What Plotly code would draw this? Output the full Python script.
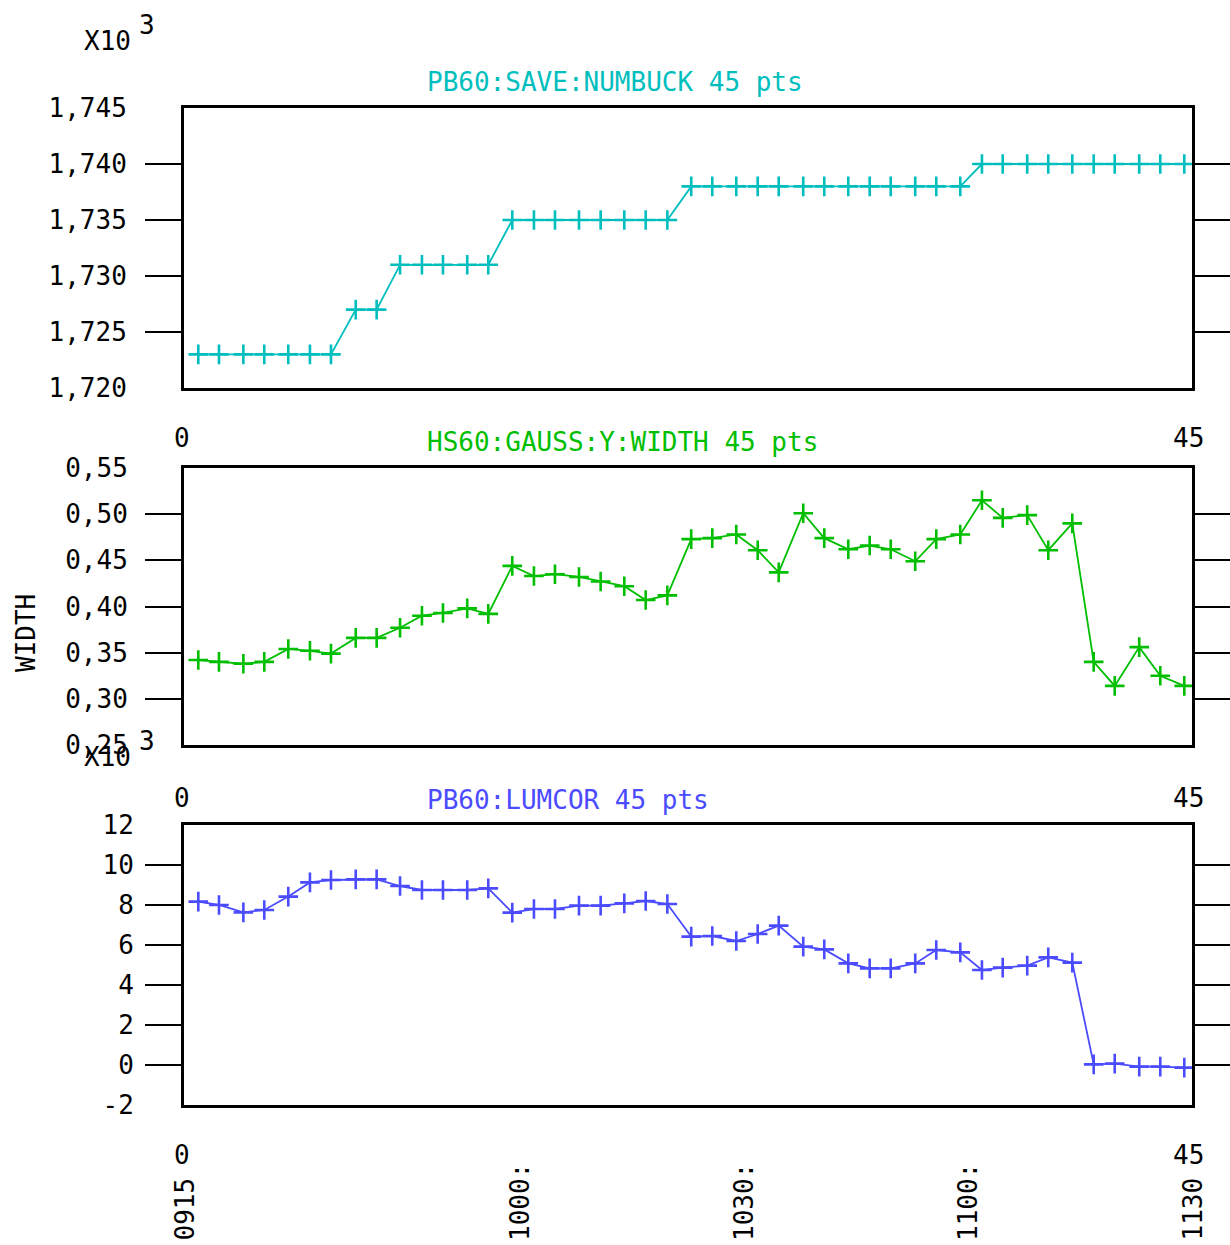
import plotly.graph_objects as go

# ---- data -------------------------------------------------------------
DAY = "2024-03-01"

sample_times = [
    "09:16:55", "09:19:41", "09:22:57", "09:25:45", "09:28:58", "09:31:52",
    "09:34:41", "09:38:00", "09:40:48", "09:43:56", "09:46:52", "09:49:41",
    "09:52:56", "09:55:45", "09:58:58", "10:01:52", "10:04:41", "10:07:54",
    "10:10:48", "10:13:58", "10:16:50", "10:19:44", "10:22:56", "10:25:45",
    "10:28:58", "10:31:50", "10:34:39", "10:37:56", "10:40:45", "10:43:58",
    "10:46:50", "10:49:39", "10:52:56", "10:55:45", "10:58:58", "11:01:52",
    "11:04:39", "11:07:56", "11:10:45", "11:13:58", "11:16:50", "11:19:39",
    "11:22:56", "11:25:45", "11:28:58",
]

numbuck = [
    1723, 1723, 1723, 1723, 1723, 1723, 1723, 1727, 1727, 1731,
    1731, 1731, 1731, 1731, 1735, 1735, 1735, 1735, 1735, 1735,
    1735, 1735, 1738, 1738, 1738, 1738, 1738, 1738, 1738, 1738,
    1738, 1738, 1738, 1738, 1738, 1740, 1740, 1740, 1740, 1740,
    1740, 1740, 1740, 1740, 1740,
]

gauss_width = [
    0.342, 0.340, 0.338, 0.340, 0.354, 0.352, 0.349, 0.366, 0.366, 0.377,
    0.390, 0.393, 0.398, 0.392, 0.444, 0.433, 0.435, 0.432, 0.427, 0.422,
    0.407, 0.412, 0.473, 0.474, 0.478, 0.461, 0.437, 0.501, 0.474, 0.462,
    0.466, 0.462, 0.449, 0.473, 0.478, 0.515, 0.496, 0.499, 0.461, 0.490,
    0.340, 0.314, 0.356, 0.325, 0.314,
]

lumcor = [
    8170, 8000, 7630, 7750, 8420, 9130, 9250, 9280, 9280, 8950,
    8750, 8750, 8750, 8830, 7620, 7800, 7800, 7970, 7970, 8080,
    8200, 8050, 6420, 6450, 6200, 6550, 6970, 5920, 5780, 5080,
    4830, 4830, 5080, 5750, 5630, 4750, 4870, 4970, 5380, 5120,
    30, 70, -80, -80, -130,
]

numbuck_ticks = [1720, 1725, 1730, 1735, 1740, 1745]
width_ticks = [0.25, 0.30, 0.35, 0.40, 0.45, 0.50, 0.55]
lumcor_ticks = [-2000, 0, 2000, 4000, 6000, 8000, 10000, 12000]

time_ticks = ["09:15", "10:00", "10:30", "11:00", "11:30"]
time_tick_labels = ["0915", "1000:", "1030:", "1100:", "1130"]

titles = ["PB60:SAVE:NUMBUCK 45 pts", "HS60:GAUSS:Y:WIDTH 45 pts", "PB60:LUMCOR 45 pts"]
colors = ["#00BEBE", "#00BE00", "#4B4BFF"]

# ---- layout helpers ---------------------------------------------------
W, H = 1230, 1245
FONT = "DejaVu Sans Mono"
FS = 26


def fx(px):
    return px / W


def fy(py):
    return 1 - py / H


x_dom = [fx(184), fx(1192)]
y_doms = [[fy(388), fy(108)], [fy(745), fy(468)], [fy(1105), fy(825)]]

xs = [f"{DAY} {t}" for t in sample_times]
x_range = [f"{DAY} 09:15:00", f"{DAY} 11:30:00"]


def comma(v, nd):
    return f"{v:.{nd}f}".replace(".", ",")


panels = [
    (numbuck, numbuck_ticks, [comma(v / 1000, 3) for v in numbuck_ticks], [1720, 1745], 49),
    (gauss_width, width_ticks, [comma(v, 2) for v in width_ticks], [0.25, 0.55], 48),
    (lumcor, lumcor_ticks, [str(v // 1000) for v in lumcor_ticks], [-2000, 12000], 42),
]

fig = go.Figure()
layout = dict(
    template="none",
    width=W, height=H,
    margin=dict(l=0, r=0, t=0, b=0, pad=0, autoexpand=False),
    paper_bgcolor="white", plot_bgcolor="white",
    showlegend=False,
    font=dict(family=FONT, size=FS, color="black"),
)

annotations = []
for i, (vals, tvals, ttext, yr, standoff) in enumerate(panels):
    n = "" if i == 0 else str(i + 1)
    fig.add_trace(go.Scatter(
        x=xs, y=vals, mode="lines+markers",
        xaxis="x" + n, yaxis="y" + n,
        line=dict(color=colors[i], width=1.8),
        marker=dict(symbol="cross-thin", size=14, color=colors[i],
                    line=dict(width=2.6, color=colors[i])),
        hoverinfo="x+y",
    ))
    layout["xaxis" + n] = dict(
        type="date", range=x_range, domain=x_dom, anchor="y" + n,
        automargin=False,
        showline=True, linewidth=3, linecolor="black", mirror=True,
        showgrid=False, zeroline=False, ticks="", showticklabels=False,
    )
    layout["yaxis" + n] = dict(
        range=yr, domain=y_doms[i], anchor="x" + n,
        automargin=False,
        showline=True, linewidth=3, linecolor="black", mirror="ticks",
        showgrid=False, zeroline=False,
        tickmode="array", tickvals=tvals, ticktext=ttext, ticks="",
        ticklabelstandoff=standoff,
        tickfont=dict(family=FONT, size=FS, color="black"),
        minor=dict(tickmode="array", tickvals=tvals[1:-1], ticks="outside",
                   ticklen=36, tickwidth=2, tickcolor="black", showgrid=False),
    )
    # series title
    title_y = [82, 442, 800][i]
    annotations.append(dict(
        text=titles[i], xref="paper", yref="paper", x=fx(425), y=fy(title_y),
        xanchor="left", yanchor="middle", showarrow=False,
        font=dict(family=FONT, size=FS, color=colors[i]),
    ))
    # point index range under each panel
    idx_y = [438, 798, 1155][i]
    annotations.append(dict(
        text="0", xref="x" + n + " domain", yref="paper", x=0, y=fy(idx_y),
        xanchor="center", yanchor="middle", xshift=-2, showarrow=False,
    ))
    annotations.append(dict(
        text="45", xref="x" + n + " domain", yref="paper", x=1, y=fy(idx_y),
        xanchor="center", yanchor="middle", xshift=-4, showarrow=False,
    ))

# exponent markers for the scaled axes
for py in (41, 757):
    annotations.append(dict(text="X10", xref="paper", yref="paper",
                            x=fx(107), y=fy(py), xanchor="center", yanchor="middle",
                            showarrow=False))
    annotations.append(dict(text="3", xref="paper", yref="paper",
                            x=fx(147), y=fy(py - 16), xanchor="center", yanchor="middle",
                            showarrow=False))

# y-axis name of the middle panel
annotations.append(dict(text="WIDTH", xref="paper", yref="paper",
                        x=fx(26), y=fy(633), xanchor="center", yanchor="middle",
                        textangle=-90, showarrow=False,
                        font=dict(family=FONT, size=26, color="black")))

# rotated time labels along the bottom
for t, lab in zip(time_ticks, time_tick_labels):
    annotations.append(dict(text=lab, xref="x3", yref="paper",
                            x=f"{DAY} {t}:00", y=fy(1243),
                            xanchor="center", yanchor="bottom",
                            textangle=-90, showarrow=False))

layout["annotations"] = annotations
fig.update_layout(**layout)
fig.write_html("out.html")
